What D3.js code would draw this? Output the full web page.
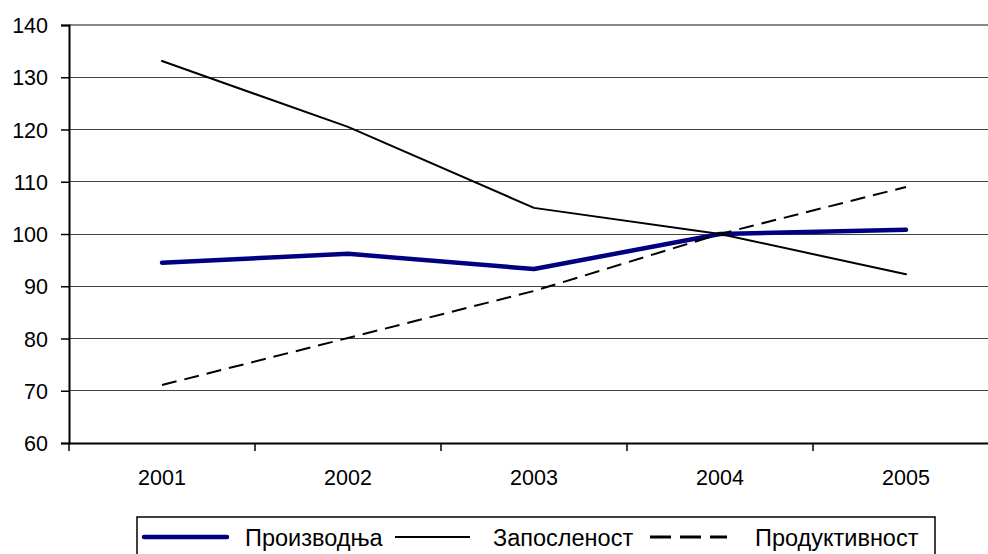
<!DOCTYPE html>
<html><head><meta charset="utf-8">
<script src="https://cdn.jsdelivr.net/npm/d3@7"></script>
<style>body{margin:0;background:#fff}svg{display:block}text{font-family:"Liberation Sans",Arial,sans-serif}</style>
</head><body>
<svg id="c" width="988" height="554"></svg>
<script>
const years = ["2001","2002","2003","2004","2005"];
const proizvodnja = [94.5, 96.2, 93.3, 100.0, 100.8];
const zaposlenost = [133.1, 120.5, 105.0, 100.0, 92.3];
const produktivnost = [71.1, 80.1, 89.1, 100.0, 109.0];
const yTicks = [60,70,80,90,100,110,120,130,140];
const seriesNames = ["Производња","Запосленост","Продуктивност"];

const svg = d3.select("#c");
const L = 69, R = 999, T = 25, B = 443;
const x = d3.scaleBand().domain(years).range([L, R]);
const y = d3.scaleLinear().domain([60,140]).range([B, T]);

// gridlines
svg.append("g").selectAll("line").data(yTicks.filter(v=>v>60&&v<140)).join("line")
  .attr("x1",L).attr("x2",R).attr("y1",d=>y(d)).attr("y2",d=>y(d))
  .attr("stroke","#444").attr("stroke-width",1).attr("shape-rendering","crispEdges");
svg.append("line").attr("x1",L).attr("x2",R).attr("y1",y(140)).attr("y2",y(140))
  .attr("stroke","#888").attr("stroke-width",2);

// y axis
const ya = svg.append("g").attr("transform",`translate(${L},0)`)
  .call(d3.axisLeft(y).tickValues(yTicks).tickSize(8).tickPadding(13));
ya.select(".domain").attr("stroke","#000").attr("stroke-width",2);
ya.selectAll(".tick line").attr("stroke","#000").attr("stroke-width",1.5);
ya.selectAll(".tick text").attr("font-size",21.5).attr("fill","#000").attr("dy","0.35em");

// x axis
const xa = svg.append("g").attr("transform",`translate(0,${B})`)
  .call(d3.axisBottom(x).tickSize(0));
xa.select(".domain").attr("stroke","#000").attr("stroke-width",2);
xa.selectAll(".tick text").attr("font-size",21.5).attr("fill","#000").attr("y",42).attr("dy",0);
svg.append("g").selectAll("line").data(years.concat(["end"])).join("line")
  .attr("x1",(d,i)=>L+i*x.bandwidth()).attr("x2",(d,i)=>L+i*x.bandwidth())
  .attr("y1",B).attr("y2",B+8).attr("stroke","#000").attr("stroke-width",1.5);

const line = d3.line().x((d,i)=>x(years[i])+x.bandwidth()/2).y(d=>y(d));
const styles = [
  {data:proizvodnja, stroke:"#000080", w:4.5, dash:null},
  {data:zaposlenost, stroke:"#000", w:2, dash:null},
  {data:produktivnost, stroke:"#000", w:2, dash:"15,8"}
];
styles.forEach(s=>{
  svg.append("path").datum(s.data).attr("d",line).attr("fill","none")
    .attr("stroke",s.stroke).attr("stroke-width",s.w)
    .attr("stroke-linejoin","round").attr("stroke-linecap",s.dash?"butt":"round")
    .attr("stroke-dasharray",s.dash);
});

// legend
const lg = svg.append("g");
lg.append("rect").attr("x",137).attr("y",517).attr("width",798).attr("height",40)
  .attr("fill","#fff").attr("stroke","#000").attr("stroke-width",1.5);
const items = [
  {x1:144,x2:227,tx:245},
  {x1:395,x2:470,tx:493},
  {x1:650,x2:727,tx:755}
];
items.forEach((it,i)=>{
  const s = styles[i];
  lg.append("line").attr("x1",it.x1).attr("x2",it.x2).attr("y1",537).attr("y2",537)
    .attr("stroke",s.stroke).attr("stroke-width",i===0?4.5:(i===2?2.8:1.8))
    .attr("stroke-linecap",i===0?"round":"butt")
    .attr("stroke-dasharray",i===2?"21,9":null);
  lg.append("text").attr("x",it.tx).attr("y",537.5).attr("dy","0.35em")
    .attr("font-size",23.5).attr("fill","#000").text(seriesNames[i]);
});
</script>
</body></html>
